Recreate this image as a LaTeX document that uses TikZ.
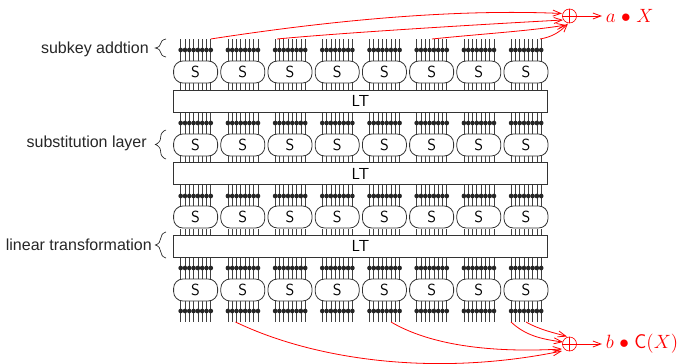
\documentclass[tikz,border=0pt]{standalone}
\usepackage{fontspec}
\setmainfont{Liberation Sans}
\usetikzlibrary{arrows.meta, positioning, decorations.pathreplacing, calc}
\newfontfamily\lmsans{Latin Modern Sans}
\begin{document}
\begin{tikzpicture}[x=0.75pt, y=-0.75pt,
            sbox/.style={rectangle, rounded corners=7pt, draw=black!80, fill=white, semithick, minimum width=33pt, minimum height=16.5pt, inner sep=0pt, font=\lmsans\fontsize{12}{14}\selectfont},
            ltbox/.style={rectangle, draw=black!80, fill=white, semithick, minimum width=281pt, minimum height=16.5pt, inner sep=0pt, font=\lmsans\fontsize{12}{14}\selectfont},
            wire/.style={black!75, line width=0.55pt},
            bit/.style={circle, fill=black!85, inner sep=0pt, minimum size=3.5pt},
            xorop/.style={circle, draw=red, minimum size=10.5pt, inner sep=0pt, line width=0.5pt},
            arrow/.style={->, >={Straight Barb[length=6pt,width=4.5pt]}, red, line width=0.6pt},
            lbl/.style={font=\fontsize{12}{14}\selectfont, text=black!85},
            res/.style={text=red, anchor=west, font=\fontsize{15}{17}\selectfont}
        ]
            \useasboundingbox (0,0) rectangle (683,364);
            % wires and bits of each column
            \foreach \c in {0,...,7} {
                \foreach \w in {0,...,7} {
                    \pgfmathsetmacro{\px}{180.7+47.2*\c+4.3*\w}
                    \foreach \ya/\yb in {39/61, 83/134, 156/207, 229/280, 301/322}
                        \draw[wire] (\px,\ya) -- (\px,\yb);
                    \foreach \yd in {50,123,196,268,311}
                        \node[bit] (b\c\w\yd) at (\px,\yd) {};
                }
            }
            % sboxes
            \foreach \row/\yr in {1/72,2/145,3/217,4/290}
                \foreach \c in {0,...,7}
                    \node[sbox] (s\row\c) at (195.6+47.2*\c,\yr) {S};
            % linear layers
            \node[ltbox] (lt1) at (360.5,101) {LT};
            \node[ltbox] (lt2) at (360.5,173.5) {LT};
            \node[ltbox] (lt3) at (360.5,246) {LT};
            % adders
            \node[xorop] (xa) at (569.5,16) {};
            \draw[red, line width=0.5pt] (xa.north) -- (xa.south) (xa.west) -- (xa.east);
            \node[xorop] (xb) at (569.5,344) {};
            \draw[red, line width=0.5pt] (xb.north) -- (xb.south) (xb.west) -- (xb.east);
            % tap points
            \coordinate (ta1) at (210.7,39);
            \coordinate (ta2) at (277,39);
            \coordinate (ta3) at (432,39);
            \coordinate (ta4) at (540,39);
            \coordinate (tb1) at (235.5,322);
            \coordinate (tb2) at (391,322);
            \coordinate (tb3) at (511,322);
            \coordinate (tb4) at (526,322);
            \coordinate (ea1) at (562,13.5);
            \coordinate (ea2) at (563,20);
            \coordinate (ea3) at (566,25);
            \coordinate (ea4) at (568,23.5);
            \coordinate (eb1) at (562,351);
            \coordinate (eb2) at (562,349);
            \coordinate (eb3) at (563,342);
            \coordinate (eb4) at (567,336.5);
            \coordinate (ra) at (602,16);
            \coordinate (rb) at (602,344);
            % red curves
            \draw[arrow] (ta1) .. controls (340,19) and (460,9) .. (ea1);
            \draw[arrow] (ta2) .. controls (340,33) and (470,25) .. (ea2);
            \draw[arrow] (ta3) .. controls (480,34) and (530,31) .. (ea3);
            \draw[arrow] (ta4) .. controls (552,37) and (560,32) .. (ea4);
            \draw[arrow] (tb1) .. controls (310,358) and (430,378) .. (eb1);
            \draw[arrow] (tb2) .. controls (430,345) and (490,353) .. (eb2);
            \draw[arrow] (tb3) .. controls (525,335) and (540,339) .. (eb3);
            \draw[arrow] (tb4) .. controls (540,330) and (555,333) .. (eb4);
            \draw[arrow] (xa.east) -- (ra);
            \draw[arrow] (xb.east) -- (rb);
            \node[res, inner sep=0pt] (la) at (605.5,16) {$a$ $\bullet$ $X$};
            \node[res, inner sep=0pt] (lb) at (605.5,344) {$b$ $\bullet$ {\lmsans C}$(X)$};
            % labels and braces
            \node[lbl, anchor=east, inner sep=0pt] (l1) at (149,49) {subkey addtion};
            \node[lbl, anchor=east, inner sep=0pt] (l2) at (147,143) {substitution layer};
            \node[lbl, anchor=east, inner sep=0pt] (l3) at (152,245) {linear transformation};
            \draw[black!85, line width=0.5pt, decorate, decoration={brace, amplitude=8pt}] (166,57) -- (166,39);
            \draw[black!85, line width=0.5pt, decorate, decoration={brace, amplitude=8pt}] (166,159) -- (166,130);
            \draw[black!85, line width=0.5pt, decorate, decoration={brace, amplitude=8pt}] (166,258) -- (166,232);
        \end{tikzpicture}
\end{document}
